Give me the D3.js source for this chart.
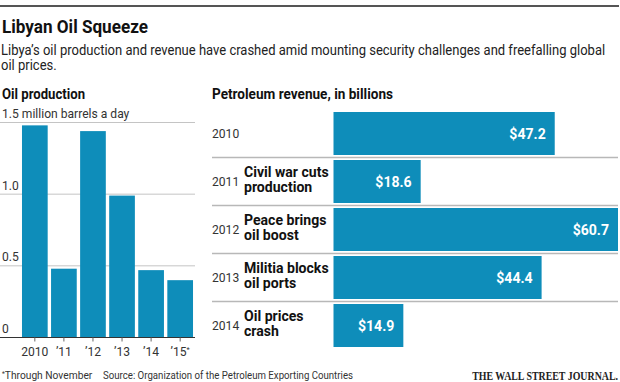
<!DOCTYPE html>
<html><head><meta charset="utf-8">
<script src="https://cdn.jsdelivr.net/npm/d3@7/dist/d3.min.js"></script>
<style>
html,body{margin:0;padding:0;background:#fff;}
svg{display:block;font-family:Roboto,"Noto Sans",sans-serif;}
</style></head>
<body>
<svg id="chart" width="620" height="382"></svg>
<script>
// ---- data ----
const prodYears = ["2010", "’11", "’12", "’13", "’14", "’15"];
const prodValues = [1.48, 0.48, 1.44, 0.99, 0.47, 0.40];
const prodTicks = [0, 0.5, 1.0, 1.5];
const prodTickLabels = ["0", "0.5", "1.0", "1.5 million barrels a day"];

const revYears = ["2010", "2011", "2012", "2013", "2014"];
const revValues = [47.2, 18.6, 60.7, 44.4, 14.9];
const revLabels = ["$47.2", "$18.6", "$60.7", "$44.4", "$14.9"];
const revNotes = [[], ["Civil war cuts", "production"], ["Peace brings", "oil boost"], ["Militia blocks", "oil ports"], ["Oil prices", "crash"]];

const titleText = "Libyan Oil Squeeze";
const subtitleLines = ["Libya’s oil production and revenue have crashed amid mounting security challenges and freefalling global", "oil prices."];

// ---- drawing ----
const svg = d3.select("#chart");
const BLUE = "#0e8dba";

function fit(sel, w) { sel.attr("textLength", w).attr("lengthAdjust", "spacingAndGlyphs"); }
function condense(sel, k) {
  sel.each(function () {
    const n = this.getComputedTextLength();
    d3.select(this).attr("textLength", n * k).attr("lengthAdjust", "spacingAndGlyphs");
  });
}
// horizontally scaled text via transform (keeps true bounding box)
function scaledText(x, y, w, anchor) {
  const g = svg.append("g");
  const t = g.append("text").attr("x", 0).attr("y", 0).attr("text-anchor", anchor || "start");
  return { g, t, finish() {
    const n = t.node().getComputedTextLength();
    const k = w / n;
    g.attr("transform", `translate(${x},${y}) scale(${k},1)`);
    return k;
  } };
}

// top rule
svg.append("rect").attr("x", 0).attr("y", 5).attr("width", 619).attr("height", 2).attr("fill", "#555");

// title
const title = svg.append("text").attr("x", 2).attr("y", 33).attr("font-size", 19).attr("font-weight", 700)
  .attr("fill", "#111").text(titleText);
fit(title, 146);

// subtitle
const s1 = scaledText(1, 55, 605);
s1.t.attr("font-size", 14).attr("fill", "#222").text(subtitleLines[0]);
const kReg = s1.finish();
const s2 = scaledText(1, 70, 0);
s2.t.attr("font-size", 14).attr("fill", "#222").text(subtitleLines[1]);
s2.g.attr("transform", `translate(1,70) scale(${kReg},1)`);

// section headers
const h1 = svg.append("text").attr("x", 2).attr("y", 99).attr("font-size", 14).attr("font-weight", 700).attr("fill", "#111").text("Oil production");
fit(h1, 83);
const h2 = svg.append("text").attr("x", 212).attr("y", 99).attr("font-size", 14).attr("font-weight", 700).attr("fill", "#111").text("Petroleum revenue, in billions");
const kBold = 181 / h2.node().getComputedTextLength();
fit(h2, 181);

// ---- left chart: oil production ----
const x1 = d3.scaleBand().domain(prodYears).range([20.3, 194.7]).paddingInner(0.116).paddingOuter(0.058);
const y1 = d3.scaleLinear().domain([0, 1.5]).range([337.5, 122.5]);

const gl = svg.append("g");
gl.selectAll("line.grid").data(prodTicks.filter(d => d > 0)).join("line")
  .attr("x1", 0).attr("x2", 195).attr("y1", d => y1(d)).attr("y2", d => y1(d))
  .attr("stroke", "#c4c4c4").attr("stroke-width", 1);
const yl = gl.selectAll("text.ylab").data(prodTicks).join("text")
  .attr("x", 2).attr("y", d => y1(d) - 4.5).attr("font-size", 13).attr("fill", "#333")
  .text((d, i) => prodTickLabels[i]);
condense(yl, kReg);

gl.selectAll("rect.bar").data(prodValues).join("rect")
  .attr("x", (d, i) => x1(prodYears[i])).attr("width", x1.bandwidth())
  .attr("y", d => y1(d)).attr("height", d => y1(0) - y1(d)).attr("fill", BLUE);

gl.append("line").attr("x1", 0).attr("x2", 195).attr("y1", y1(0)).attr("y2", y1(0)).attr("stroke", "#333").attr("stroke-width", 1);

const xAxis = d3.axisBottom(x1).tickSize(4).tickSizeOuter(0).tickFormat(d => d === "’15" ? "" : d);
const ax = gl.append("g").attr("transform", `translate(0,${y1(0)})`).call(xAxis);
ax.select(".domain").remove();
ax.selectAll(".tick line").attr("stroke", "#666");
ax.selectAll(".tick text").attr("font-family", "Roboto,sans-serif").attr("font-size", 13).attr("fill", "#333").attr("dy", 0).attr("y", 18.5);
ax.selectAll(".tick").filter(d => d === "’15").select("text")
  .call(t => { t.append("tspan").text("’15"); t.append("tspan").attr("font-size", 8).attr("dy", -4).text("*"); });
ax.selectAll(".tick text").each(function () {
  const n = this.getComputedTextLength();
  d3.select(this).attr("textLength", n * kReg).attr("lengthAdjust", "spacingAndGlyphs");
});

// ---- right chart: revenue ----
const x2 = d3.scaleLinear().domain([0, 60.7]).range([333.5, 618]);
const y2 = d3.scaleBand().domain(revYears).range([112, 347]).paddingInner(5 / 48).paddingOuter(0);
const gr = svg.append("g");

gr.selectAll("line.sep").data(revYears.slice(0, -1)).join("line")
  .attr("x1", 212).attr("x2", 618)
  .attr("y1", d => y2(d) + y2.bandwidth() + 2.5).attr("y2", d => y2(d) + y2.bandwidth() + 2.5)
  .attr("stroke", "#b8b8b8").attr("stroke-width", 1.5);

gr.selectAll("rect.bar").data(revValues).join("rect")
  .attr("x", x2(0)).attr("y", (d, i) => y2(revYears[i]))
  .attr("width", d => x2(d) - x2(0)).attr("height", y2.bandwidth()).attr("fill", BLUE);

const cy = i => y2(revYears[i]) + y2.bandwidth() / 2;

const yr = gr.selectAll("text.year").data(revYears).join("text")
  .attr("x", 212).attr("y", (d, i) => cy(i) + 4.5).attr("font-size", 13).attr("fill", "#333").text(d => d);
condense(yr, kReg);

const vals = gr.selectAll("text.val").data(revValues).join("text")
  .attr("x", d => x2(d) - 9).attr("y", (d, i) => cy(i) + 5).attr("text-anchor", "end")
  .attr("font-size", 14.5).attr("font-weight", 700).attr("fill", "#fff").text((d, i) => revLabels[i]);
condense(vals, kBold);

revNotes.forEach((lines, i) => {
  lines.forEach((s, j) => {
    const t = gr.append("text").attr("x", 244).attr("y", cy(i) - 5 + j * 15.5)
      .attr("font-size", 14.5).attr("font-weight", 700).attr("fill", "#111").text(s);
    condense(t, kBold);
  });
});

// ---- footer ----
const f1 = svg.append("text").attr("x", 2).attr("y", 379).attr("font-size", 11).attr("fill", "#333");
f1.append("tspan").attr("font-size", 7).attr("dy", -3).text("*");
f1.append("tspan").attr("dy", 3).text("Through November");
condense(f1, kReg);
const f2 = svg.append("text").attr("x", 103).attr("y", 379).attr("font-size", 11).attr("fill", "#333")
  .text("Source: Organization of the Petroleum Exporting Countries");
fit(f2, 250);
const w3 = scaledText(618, 380, 146, "end");
w3.t.attr("font-size", 11.5).attr("font-weight", 700)
  .attr("font-family", "'Liberation Serif','DejaVu Serif',serif").attr("fill", "#222")
  .text("THE WALL STREET JOURNAL.");
w3.finish();
</script>
</body></html>
